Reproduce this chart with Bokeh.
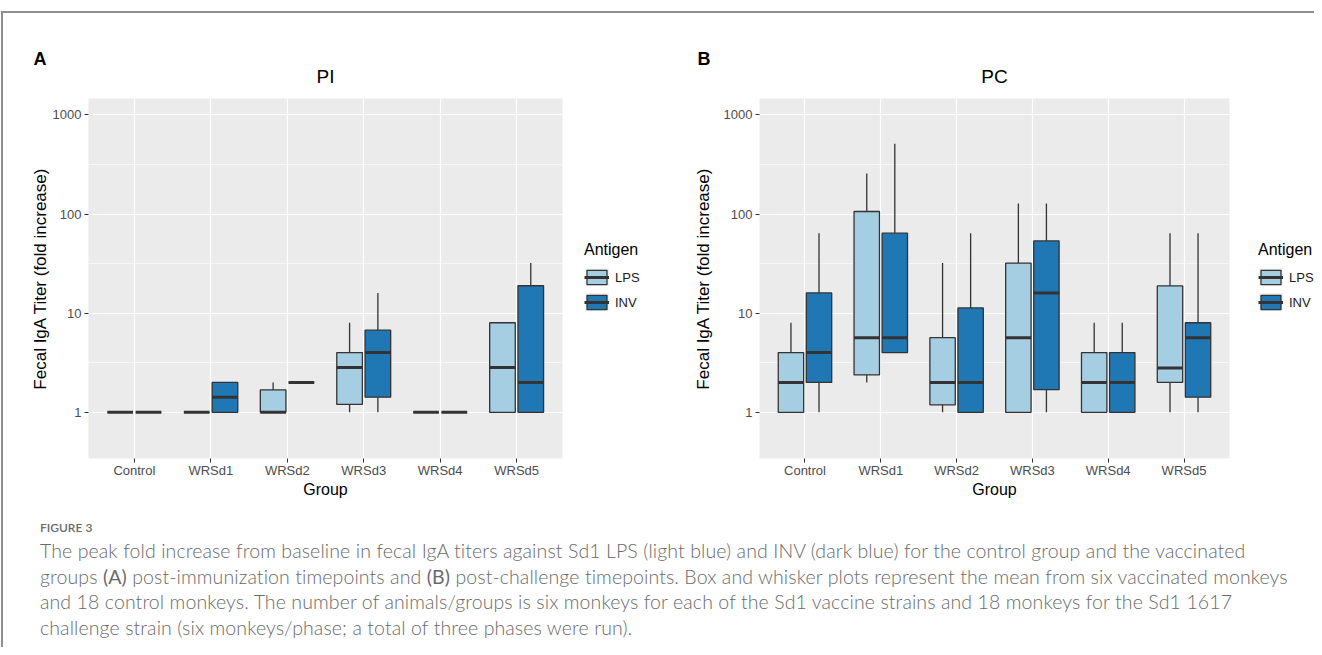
import math
from bokeh.plotting import figure
from bokeh.models import (ColumnDataSource, Range1d, FactorRange, FixedTicker,
                          NumeralTickFormatter, Legend, LegendItem, Title, Div)
from bokeh.transform import dodge
from bokeh.layouts import row, column
from bokeh.embed import file_html
from bokeh.resources import INLINE

# ---------------- data ----------------
groups = ["Control", "WRSd1", "WRSd2", "WRSd3", "WRSd4", "WRSd5"]
antigens = ["LPS", "INV"]
antigen_colors = ["#A6CEE3", "#1F78B4"]
y_ticks = [1, 10, 100, 1000]
y_minor = [10 ** 0.5, 10 ** 1.5, 10 ** 2.5]
y_limits = [0.5, 1000]

# Panel A: PI (post-immunization)
pi_lps_min = [1, 1, 1, 1, 1, 1]
pi_lps_q1 = [1, 1, 1, 1.2, 1, 1]
pi_lps_med = [1, 1, 1, 2.83, 1, 2.83]
pi_lps_q3 = [1, 1, 1.68, 4, 1, 8]
pi_lps_max = [1, 1, 2, 8, 1, 8]

pi_inv_min = [1, 1, 2, 1, 1, 1]
pi_inv_q1 = [1, 1, 2, 1.42, 1, 1]
pi_inv_med = [1, 1.42, 2, 4, 1, 2]
pi_inv_q3 = [1, 2, 2, 6.73, 1, 18.9]
pi_inv_max = [1, 2, 2, 16, 1, 32]

# Panel B: PC (post-challenge)
pc_lps_min = [1, 2, 1, 1, 1, 1]
pc_lps_q1 = [1, 2.38, 1.19, 1, 1, 2]
pc_lps_med = [2, 5.66, 2, 5.66, 2, 2.8]
pc_lps_q3 = [4, 106, 5.66, 32, 4, 18.8]
pc_lps_max = [8, 256, 32, 128, 8, 64]

pc_inv_min = [1, 4, 1, 1, 1, 1]
pc_inv_q1 = [2, 4, 1, 1.69, 1, 1.42]
pc_inv_med = [4, 5.66, 2, 16, 2, 5.66]
pc_inv_q3 = [16, 64, 11.3, 53.5, 4, 8]
pc_inv_max = [64, 512, 64, 128, 8, 64]

caption_lines = [
    "The peak fold increase from baseline in fecal IgA titers against Sd1 LPS (light blue) and INV (dark blue) for the control group and the vaccinated",
    "groups <b>(A)</b> post-immunization timepoints and <b>(B)</b> post-challenge timepoints. Box and whisker plots represent the mean from six vaccinated monkeys",
    "and 18 control monkeys. The number of animals/groups is six monkeys for each of the Sd1 vaccine strains and 18 monkeys for the Sd1 1617",
    "challenge strain (six monkeys/phase; a total of three phases were run).",
]

FONT = "Liberation Sans"
BOX_W = 0.335
OFFS = [-0.185, 0.185]

# ggplot-like 5% expansion of the log limits
lo, hi = math.log10(y_limits[0]), math.log10(y_limits[1])
pad = 0.05 * (hi - lo)
Y_START, Y_END = 10 ** (lo - pad), 10 ** (hi + pad)

FIG_H = 489


def base_fig(width, **kw):
    return figure(x_range=FactorRange(*groups, range_padding=0.1, range_padding_units="absolute"),
                  y_range=Range1d(Y_START, Y_END), y_axis_type="log", title=None,
                  width=width, height=FIG_H, output_backend="svg", toolbar_location=None, **kw)


def draw_boxes(p, data, visible=True, key_bg=False):
    items = []
    for ant, col, off, d in zip(antigens, antigen_colors, OFFS, data):
        src = ColumnDataSource(dict(group=groups, ymin=d[0], q1=d[1], med=d[2], q3=d[3], ymax=d[4]))
        xc = dodge("group", off, range=p.x_range)
        rs = []
        if key_bg:
            # legend-key background square (only used for the legend, never shown in a plot)
            rs.append(p.scatter(x=xc, y="med", source=src, marker="square", size=8,
                                fill_color="#F2F2F2", line_color="#F2F2F2", line_width=17,
                                line_join="miter", visible=visible))
        p.segment(x0=xc, y0="q3", x1=xc, y1="ymax", source=src, line_color="#333333",
                  line_width=1.3, visible=visible)
        p.segment(x0=xc, y0="ymin", x1=xc, y1="q1", source=src, line_color="#333333",
                  line_width=1.3, visible=visible)
        box = p.vbar(x=xc, width=BOX_W, bottom="q1", top="q3", source=src, fill_color=col,
                     line_color="#333333", line_width=1.3, visible=visible)
        med = p.segment(x0=dodge("group", off - BOX_W / 2, range=p.x_range), y0="med",
                        x1=dodge("group", off + BOX_W / 2, range=p.x_range), y1="med",
                        source=src, line_color="#333333", line_width=3, visible=visible)
        items.append(LegendItem(label=ant, renderers=rs + [box, med]))
    return items


def make_panel(title, letter, data, width, mb_left, mb_right, mb_top, mb_bottom,
               ylab_standoff, letter_dx):
    p = base_fig(width, min_border_left=mb_left, min_border_right=mb_right,
                 min_border_top=mb_top, min_border_bottom=mb_bottom)
    p.background_fill_color = "#EBEBEB"
    p.border_fill_color = "white"
    p.outline_line_color = None

    p.add_layout(Title(text=title, align="center", text_font=FONT, text_font_size="19px",
                       text_font_style="normal", text_color="black", standoff=24), "above")
    p.add_layout(Title(text=letter, align="left", offset=letter_dx, text_font=FONT,
                       text_font_size="18px", text_font_style="bold", text_color="black",
                       standoff=-35), "above")

    p.xgrid.grid_line_color = "white"
    p.xgrid.grid_line_width = 1.2
    p.ygrid.grid_line_color = "white"
    p.ygrid.grid_line_width = 1.2
    p.ygrid.minor_grid_line_color = "white"
    p.ygrid.minor_grid_line_width = 0.6

    p.yaxis.ticker = FixedTicker(ticks=y_ticks, minor_ticks=y_minor)
    p.yaxis.formatter = NumeralTickFormatter(format="0")
    for ax in (p.xaxis[0], p.yaxis[0]):
        ax.axis_line_color = None
        ax.major_tick_line_color = "#333333"
        ax.major_tick_line_width = 1
        ax.major_tick_out = 4
        ax.major_tick_in = 0
        ax.minor_tick_line_color = None
        ax.major_label_text_font = FONT
        ax.major_label_text_font_size = "13px"
        ax.major_label_text_color = "#4D4D4D"
        ax.major_label_standoff = 3
        ax.axis_label_text_font = FONT
        ax.axis_label_text_font_style = "normal"
        ax.axis_label_text_color = "black"
    p.xaxis.major_label_standoff = 0
    p.xaxis.axis_label = "Group"
    p.xaxis.axis_label_text_font_size = "16px"
    p.xaxis.axis_label_standoff = 0
    p.yaxis.axis_label = "Fecal IgA Titer (fold increase)"
    p.yaxis.axis_label_text_font_size = "17px"
    p.yaxis.axis_label_standoff = ylab_standoff

    draw_boxes(p, data, visible=True)
    return p


def make_legend_fig(data, width, legend_x, legend_vy):
    lf = base_fig(width, min_border=0, x_axis_location=None, y_axis_location=None)
    lf.xgrid.visible = False
    lf.ygrid.visible = False
    lf.outline_line_color = None
    lf.background_fill_color = "white"
    items = draw_boxes(lf, data, visible=False, key_bg=True)
    leg = Legend(items=items, location=(legend_x, legend_vy), title="Antigen",
                 title_text_font=FONT, title_text_font_size="16px", title_text_color="black",
                 title_text_font_style="normal", title_standoff=9,
                 label_text_font=FONT, label_text_font_size="13px", label_text_color="#1a1a1a",
                 glyph_width=25, glyph_height=18, spacing=7, label_standoff=6,
                 padding=0, margin=0, background_fill_alpha=0, border_line_color=None,
                 inactive_fill_alpha=0, click_policy="none")
    lf.add_layout(leg)
    return lf


pi_data = [[pi_lps_min, pi_lps_q1, pi_lps_med, pi_lps_q3, pi_lps_max],
           [pi_inv_min, pi_inv_q1, pi_inv_med, pi_inv_q3, pi_inv_max]]
pc_data = [[pc_lps_min, pc_lps_q1, pc_lps_med, pc_lps_q3, pc_lps_max],
           [pc_inv_min, pc_inv_q1, pc_inv_med, pc_inv_q3, pc_inv_max]]

pA = make_panel("PI", "A", pi_data, width=569, mb_left=85, mb_right=10, mb_top=85, mb_bottom=44,
                ylab_standoff=0, letter_dx=-55)
lA = make_legend_fig(pi_data, width=88, legend_x=12, legend_vy=147)
pB = make_panel("PC", "B", pc_data, width=579, mb_left=99, mb_right=10, mb_top=85, mb_bottom=43,
                ylab_standoff=8, letter_dx=-62)
lB = make_legend_fig(pc_data, width=75, legend_x=19, legend_vy=147)

cap_html = (
    '<div style="padding-left:32px;font-family:Lato;color:#6a6a6a;white-space:nowrap;">'
    '<div style="font-size:12px;font-weight:600;line-height:16px;margin-top:13px;">FIGURE 3</div>'
    '<div style="font-size:19.5px;font-weight:300;letter-spacing:0.1px;line-height:25.5px;margin-top:2px;">'
    + "<br>".join(caption_lines) + "</div></div>"
)
cap = Div(text=cap_html, width=1300, height=135)

layout = column(row(pA, lA, pB, lB), cap, margin=(11, 0, 0, 1),
                styles={"border-top": "2px solid #8f8f8f", "border-left": "2px solid #8f8f8f"})

open("out.html", "w").write(file_html(layout, INLINE))
